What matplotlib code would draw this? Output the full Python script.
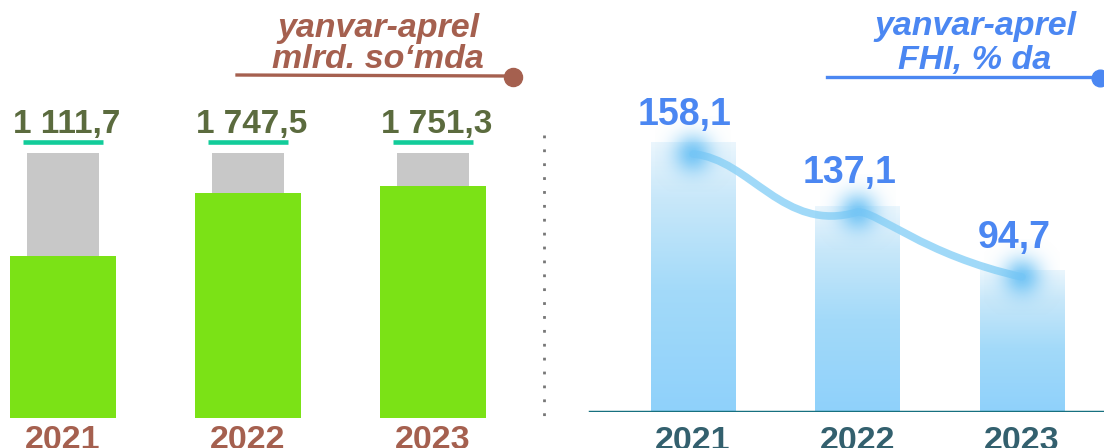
import numpy as np
import matplotlib
matplotlib.use("Agg")
import matplotlib.pyplot as plt
from matplotlib.colors import LinearSegmentedColormap, to_rgb
from matplotlib.lines import Line2D
from matplotlib.path import Path
from matplotlib.patches import PathPatch

plt.rcParams['font.family'] = ['Liberation Sans', 'DejaVu Sans']

# data
years = ['2021', '2022', '2023']
sum_values = [1111.7, 1747.5, 1751.3]      # mlrd. so'm
green_level = [162, 225, 232]              # bar heights
gray_level = [265, 265, 265]
fhi_values = [158.1, 137.1, 94.7]          # % of GDP
fhi_bar_level = [270, 206, 142]
fhi_point_level = [258, 200, 135]

W, H = 1104, 448
def fx(px):
    return px / W
def fy(py):
    return 1 - py / H

brown = '#a5604f'
olive = '#5b6b3e'
blue = '#4b87f2'
slate = '#33606e'

def fmt(v):
    return f"{v:,.1f}".replace(',', ' ').replace('.', ',')

fig = plt.figure(figsize=(W / 100, H / 100), dpi=100)

# ---------------- left panel ----------------
ax1 = fig.add_axes([0, 30 / H, 520 / W, 418 / H])
ax1.set_xlim(-63 / 185, (520 - 63) / 185)
ax1.set_ylim(0, 418)
ax1.axis('off')
x = np.arange(len(years))

ax1.bar(x, gray_level, width=0.384, color='#c8c8c8', zorder=1)
ax1.bar(x, green_level, width=0.578, color='#7be216', zorder=2)
ax1.hlines([g + 11 for g in gray_level], x - 0.216, x + 0.216,
           color='#12cc9a', lw=3.3, zorder=3)
for xi, g, v, yr in zip(x, gray_level, sum_values, years):
    ax1.text(xi + 0.02, g + 20, fmt(v), ha='center', va='baseline',
             fontsize=24, fontweight='bold', color=olive)
    ax1.annotate(yr, (xi, 0), xytext=(0, -5), textcoords='offset points',
                 ha='center', va='top', fontsize=24.5, fontweight='bold',
                 color=brown, annotation_clip=False)

# ---------------- right panel ----------------
ax2 = fig.add_axes([560 / W, 36 / H, 544 / W, 412 / H])
ax2.set_xlim((560 - 693) / 164.5, (1104 - 693) / 164.5)
ax2.set_ylim(0, 412)
ax2.axis('off')

grad = LinearSegmentedColormap.from_list(
    'g', [(0, '#8fd1fb'), (0.45, '#a3daf9'), (0.8, '#c9e8fa'), (1, '#ebf6fd')])
bw = 0.511
for xi, top in zip(x, fhi_bar_level):
    img = np.linspace(1, 0, 200).reshape(-1, 1)
    ax2.imshow(img, extent=[xi - bw / 2, xi + bw / 2, 0, top], cmap=grad,
               vmin=0, vmax=1, aspect='auto', zorder=1, interpolation='bilinear')

ax2.axhline(0, xmin=30 / 544, xmax=1, color='#17707f', lw=2.5, zorder=2)

# smooth line through points
p = list(zip(x.astype(float), fhi_point_level))
verts = [p[0], (p[0][0] + 0.35, p[0][1] - 5), (p[1][0] - 0.45, p[1][1] - 22), p[1],
         (p[1][0] + 0.12, p[1][1] + 1), (p[2][0] - 0.6, p[2][1] + 22), p[2]]
codes = [Path.MOVETO] + [Path.CURVE4] * 6
ax2.add_patch(PathPatch(Path(verts, codes), fill=False, edgecolor='#8fd3f7',
                        lw=5.5, alpha=0.85, capstyle='round', zorder=3))

# glow on points
gx = np.linspace(-1, 1, 81)
gxx, gyy = np.meshgrid(gx, gx)
alpha = np.exp(-(gxx ** 2 + gyy ** 2) / (2 * 0.36 ** 2)) * 0.95
glow = np.zeros((81, 81, 4))
glow[..., :3] = to_rgb('#74c5f5')
glow[..., 3] = alpha
for xi, py in p:
    ax2.imshow(glow, extent=[xi - 0.23, xi + 0.23, py - 38, py + 38],
               aspect='auto', zorder=4, interpolation='bilinear')

for xi, py, v, yr in zip(x, fhi_point_level, fhi_values, years):
    ax2.text(xi - 0.05, py + 29, f"{v:.1f}".replace('.', ','), ha='center',
             va='baseline', fontsize=27, fontweight='bold', color=blue, zorder=5)
    ax2.annotate(yr, (xi, 0), xytext=(0, -10), textcoords='offset points',
                 ha='center', va='top', fontsize=24.5, fontweight='bold',
                 color=slate, annotation_clip=False)

ax2.set_xlim((560 - 693) / 164.5, (1104 - 693) / 164.5)
ax2.set_ylim(0, 412)

# ---------------- headers and separator ----------------
fig.text(fx(378), fy(37), 'yanvar-aprel', ha='center', va='baseline', fontsize=24.5,
         fontstyle='italic', fontweight='bold', color=brown)
fig.text(fx(378), fy(68), 'mlrd. so\u2018mda', ha='center', va='baseline', fontsize=24.5,
         fontstyle='italic', fontweight='bold', color=brown)
fig.add_artist(Line2D([fx(237), fx(508)], [fy(75), fy(76)], color=brown, lw=2.4))
fig.add_artist(Line2D([fx(513)], [fy(77)], marker='o', markersize=13,
                      color=brown, lw=0))

fig.text(fx(975), fy(35), 'yanvar-aprel', ha='center', va='baseline', fontsize=24.5,
         fontstyle='italic', fontweight='bold', color=blue)
fig.text(fx(975), fy(69), 'FHI, % da', ha='center', va='baseline', fontsize=24.5,
         fontstyle='italic', fontweight='bold', color=blue)
fig.add_artist(Line2D([fx(827), fx(1098)], [fy(77), fy(77)], color=blue, lw=2.4))
fig.add_artist(Line2D([fx(1100)], [fy(78)], marker='o', markersize=12,
                      color=blue, lw=0))

fig.add_artist(Line2D([fx(544), fx(544)], [fy(135), fy(423)], color='#777777',
                      lw=2, linestyle=(0, (1, 4))))

fig.savefig('out.png', dpi=100)
